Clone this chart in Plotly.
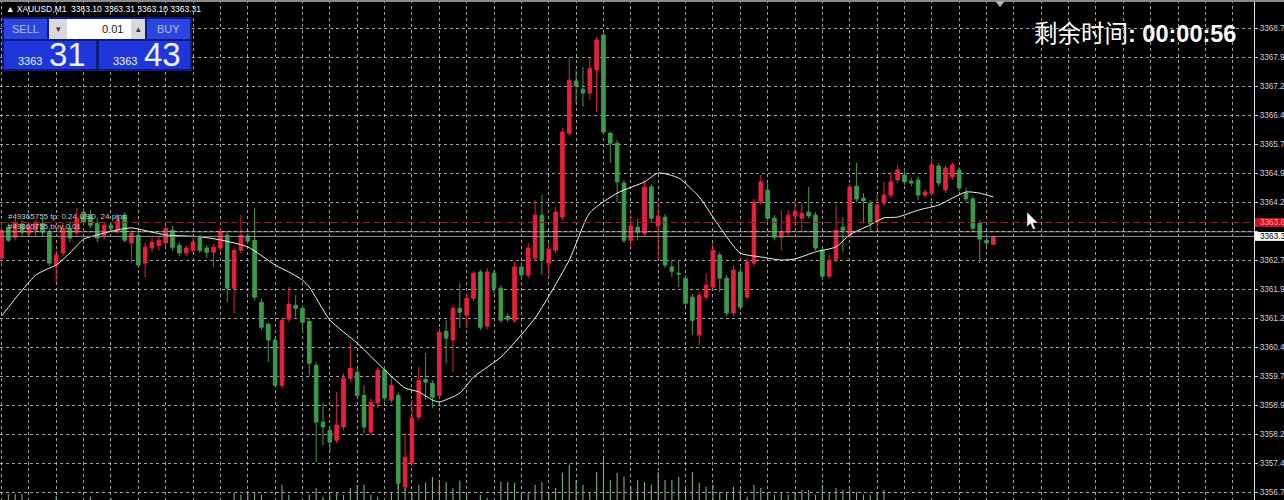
import plotly.graph_objects as go

# ---------------- data ----------------
idx = list(range(146))

opens = [
3362.75, 3363.55, 3363.29, 3363.63, 3363.39, 3363.47, 3363.65, 3363.42, 3362.57, 3362.88,
3363.52, 3363.42, 3363.94, 3363.86, 3363.65, 3363.34, 3363.60, 3363.47, 3363.86, 3363.14,
3363.34, 3362.62, 3363.01, 3363.08, 3363.14, 3363.47, 3363.08, 3362.88, 3362.95, 3363.27,
3363.01, 3362.90, 3363.01, 3363.34, 3361.97, 3362.95, 3363.32, 3363.21, 3361.61, 3361.04,
3360.63, 3359.46, 3361.17, 3361.53, 3361.45, 3361.11, 3359.98, 3358.51, 3358.30, 3358.04,
3358.38, 3359.64, 3359.80, 3359.20, 3358.25, 3359.00, 3359.85, 3359.08, 3359.20, 3356.83,
3357.45, 3358.64, 3359.61, 3359.51, 3359.20, 3360.86, 3360.63, 3361.45, 3361.27, 3361.71,
3362.39, 3360.99, 3362.36, 3361.97, 3361.25, 3361.14, 3362.52, 3362.31, 3362.75, 3363.86,
3362.62, 3362.95, 3363.81, 3365.98, 3367.33, 3367.12, 3367.02, 3367.61, 3368.52, 3365.98,
3365.72, 3364.69, 3363.21, 3363.55, 3363.39, 3364.59, 3363.58, 3363.81, 3362.52, 3362.36,
3362.23, 3361.74, 3360.76, 3361.74, 3362.00, 3362.83, 3362.23, 3361.33, 3362.39, 3361.74,
3362.62, 3364.20, 3364.51, 3363.78, 3363.29, 3363.42, 3363.84, 3363.78, 3363.94, 3363.86,
3362.95, 3362.28, 3362.72, 3363.55, 3363.34, 3364.61, 3364.30, 3364.17, 3363.68, 3364.17,
3364.38, 3364.77, 3364.90, 3364.74, 3364.77, 3364.38, 3364.43, 3365.13, 3364.51, 3364.85,
3365.03, 3364.43, 3364.28, 3363.65, 3363.21, 3363.10]

highs = [
3363.58, 3363.65, 3363.78, 3363.73, 3363.68, 3363.73, 3363.78, 3363.52, 3362.95, 3363.68,
3363.68, 3364.04, 3364.04, 3363.99, 3363.73, 3363.68, 3363.68, 3363.89, 3363.94, 3363.47,
3363.42, 3363.14, 3363.27, 3363.32, 3363.60, 3363.58, 3363.16, 3363.08, 3363.27, 3363.34,
3363.08, 3363.11, 3363.52, 3363.45, 3363.03, 3363.86, 3363.39, 3364.04, 3361.69, 3361.09,
3360.71, 3361.22, 3362.00, 3361.79, 3361.53, 3361.20, 3360.06, 3359.02, 3358.38, 3359.28,
3359.77, 3360.55, 3359.90, 3359.46, 3359.13, 3359.93, 3359.93, 3359.67, 3359.28, 3358.22,
3359.08, 3359.93, 3360.29, 3359.59, 3360.94, 3361.14, 3361.53, 3362.10, 3361.79, 3362.41,
3362.46, 3362.49, 3362.44, 3362.05, 3361.33, 3362.65, 3362.65, 3363.14, 3364.25, 3364.38,
3363.14, 3364.07, 3366.11, 3367.95, 3367.61, 3367.69, 3367.92, 3368.47, 3368.59, 3366.01,
3365.80, 3364.77, 3363.86, 3363.78, 3364.77, 3364.66, 3364.20, 3363.89, 3362.70, 3362.70,
3362.31, 3361.82, 3361.87, 3362.36, 3363.14, 3362.90, 3362.31, 3362.57, 3362.49, 3362.75,
3364.28, 3364.90, 3364.72, 3363.86, 3363.99, 3363.99, 3364.25, 3364.17, 3364.59, 3363.94,
3363.03, 3362.83, 3364.12, 3363.81, 3364.66, 3365.21, 3364.43, 3364.25, 3364.38, 3364.72,
3364.97, 3365.16, 3365.08, 3364.82, 3364.85, 3364.53, 3365.34, 3365.21, 3365.16, 3365.23,
3365.10, 3364.56, 3364.35, 3363.73, 3363.29, 3363.31]

lows = [
3362.52, 3363.16, 3363.21, 3363.32, 3363.29, 3363.32, 3363.32, 3362.54, 3362.13, 3362.80,
3363.16, 3363.32, 3363.58, 3363.52, 3363.16, 3363.24, 3363.45, 3363.39, 3363.16, 3362.62,
3362.49, 3362.26, 3362.90, 3362.95, 3363.06, 3362.95, 3362.80, 3362.80, 3362.88, 3362.88,
3362.75, 3362.52, 3362.93, 3361.61, 3361.33, 3362.88, 3363.11, 3361.66, 3360.89, 3360.06,
3359.41, 3359.38, 3361.09, 3361.22, 3360.81, 3359.72, 3357.47, 3357.91, 3357.73, 3357.96,
3358.30, 3359.56, 3359.13, 3358.22, 3358.17, 3358.87, 3359.05, 3359.00, 3356.75, 3356.75,
3357.37, 3358.56, 3359.08, 3358.87, 3359.13, 3360.03, 3359.80, 3360.94, 3360.94, 3361.64,
3360.89, 3360.91, 3361.84, 3361.07, 3361.09, 3361.07, 3362.18, 3362.23, 3362.67, 3362.31,
3362.26, 3362.88, 3363.73, 3365.91, 3366.76, 3366.66, 3366.84, 3366.53, 3365.93, 3365.21,
3364.20, 3363.14, 3363.03, 3363.21, 3363.32, 3363.68, 3362.70, 3362.49, 3362.26, 3362.00,
3361.51, 3360.76, 3360.50, 3361.66, 3361.92, 3361.87, 3361.25, 3361.25, 3361.40, 3361.66,
3362.54, 3364.12, 3363.71, 3363.21, 3362.95, 3363.29, 3363.55, 3363.42, 3363.78, 3362.95,
3362.18, 3362.21, 3362.65, 3362.90, 3363.27, 3364.20, 3363.65, 3363.47, 3363.52, 3364.09,
3364.30, 3364.69, 3364.64, 3364.61, 3364.25, 3364.30, 3364.35, 3364.61, 3364.43, 3364.77,
3364.48, 3364.20, 3363.45, 3362.62, 3363.06, 3363.10]

closes = [
3363.47, 3363.21, 3363.68, 3363.42, 3363.58, 3363.68, 3363.42, 3362.62, 3362.83, 3363.52,
3363.27, 3363.78, 3363.68, 3363.60, 3363.27, 3363.60, 3363.52, 3363.73, 3363.21, 3363.39,
3362.57, 3363.03, 3363.16, 3363.21, 3363.52, 3363.03, 3362.88, 3363.01, 3363.16, 3362.95,
3362.90, 3363.03, 3363.42, 3361.97, 3362.95, 3363.34, 3363.19, 3361.74, 3360.96, 3360.63,
3359.46, 3361.14, 3361.56, 3361.45, 3361.09, 3360.03, 3358.51, 3358.38, 3357.99, 3358.43,
3359.64, 3359.90, 3359.20, 3358.38, 3359.02, 3359.85, 3359.13, 3359.46, 3356.93, 3357.60,
3358.61, 3359.59, 3359.54, 3359.15, 3360.83, 3360.68, 3361.45, 3361.35, 3361.71, 3362.36,
3360.96, 3362.39, 3361.97, 3361.14, 3361.17, 3362.52, 3362.31, 3363.01, 3363.86, 3362.70,
3362.98, 3363.94, 3366.01, 3367.35, 3367.20, 3367.02, 3367.66, 3368.39, 3366.01, 3365.72,
3364.72, 3363.21, 3363.58, 3363.42, 3364.59, 3363.78, 3363.84, 3362.57, 3362.41, 3362.34,
3361.58, 3361.14, 3361.79, 3362.05, 3362.95, 3362.23, 3361.33, 3362.44, 3361.48, 3362.65,
3364.20, 3364.72, 3363.78, 3363.29, 3363.42, 3363.86, 3363.96, 3363.91, 3363.84, 3363.01,
3362.28, 3362.70, 3363.47, 3363.47, 3364.59, 3364.28, 3364.23, 3363.65, 3364.12, 3364.38,
3364.72, 3365.03, 3364.72, 3364.69, 3364.38, 3364.46, 3365.16, 3364.69, 3365.08, 3365.16,
3364.56, 3364.28, 3363.52, 3363.24, 3363.14, 3363.31]

volumes = [
12, 35, 35, 35, 12, 12, 12, 12, 30, 12,
12, 12, 12, 28, 12, 12, 25, 12, 12, 12,
12, 12, 12, 12, 12, 12, 12, 12, 12, 12,
12, 12, 12, 12, 38, 33, 43, 40, 33, 12,
12, 58, 33, 12, 12, 33, 50, 28, 33, 40,
33, 50, 58, 58, 33, 28, 12, 38, 63, 50,
40, 58, 63, 78, 70, 65, 50, 68, 33, 12,
33, 25, 12, 65, 65, 63, 38, 38, 58, 65,
40, 50, 88, 108, 70, 58, 40, 90, 123, 70,
88, 78, 53, 70, 65, 58, 90, 70, 70, 78,
50, 90, 63, 53, 58, 40, 38, 53, 45, 28,
58, 50, 40, 33, 38, 33, 40, 45, 45, 33,
58, 38, 50, 45, 45, 40, 33, 33, 38, 45,
12, 12, 12, 12, 12, 12, 12, 12, 12, 12,
12, 12, 12, 12, 12, 12]

ma_idx = [0, 5, 7, 8, 10, 12, 14, 17, 19, 22, 24, 29, 32, 36, 40, 42, 44, 45, 48, 52,
          56, 59, 61, 63, 64, 67, 69, 71, 73, 78, 83, 86, 90, 94, 96, 99, 102, 105, 108, 111,
          114, 116, 119, 122, 124, 127, 129, 131, 134, 137, 139, 141, 143, 145]
ma_vals = [3361.25, 3362.31, 3362.49, 3362.57, 3362.88, 3363.24, 3363.35, 3363.48, 3363.53, 3363.42,
           3363.35, 3363.30, 3363.22, 3363.04, 3362.57, 3362.39, 3362.18, 3362.00, 3361.15, 3360.55,
           3359.86, 3359.39, 3359.29, 3359.08, 3359.03, 3359.26, 3359.67, 3359.93, 3360.19, 3361.20,
           3362.70, 3363.92, 3364.43, 3364.72, 3364.95, 3364.82, 3364.33, 3363.55, 3362.88, 3362.78,
           3362.70, 3362.73, 3362.91, 3363.04, 3363.35, 3363.61, 3363.79, 3363.81, 3363.99, 3364.12,
           3364.30, 3364.46, 3364.43, 3364.33]

price_ticks = [3368.70, 3367.95, 3367.20, 3366.45, 3365.70, 3364.95, 3364.20, 3363.45, 3362.70,
               3361.95, 3361.20, 3360.45, 3359.70, 3358.95, 3358.20, 3357.45, 3356.70]
# labels as visible in the screenshot (the price scale is cut after one decimal)
price_ticktext = ["3368.7", "3367.9", "3367.2", "3366.4", "3365.7", "3364.9", "3364.2", "",
                  "3362.7", "3361.9", "3361.2", "3360.4", "3359.7", "3358.9", "3358.2",
                  "3357.4", "3356.7"]

bid_price = 3363.31
ask_price = 3363.43
tp_price = 3363.67
tp_label = "3363.6"
bid_label = "3363.3"
header_text = "▲ XAUUSD,M1  3363.10 3363.31 3363.10 3363.31"
order_text_1 = "#49365755 tp: 0.24 USD, 24 pips"
order_text_2 = "#49365755 buy 0.01"
timer_label = "剩余时间"
timer_value = "00:00:56"
lot_text = "0.01"
sell_big, sell_small = "31", "3363"
buy_big, buy_small = "43", "3363"

# ---------------- figure ----------------
W, H = 1284, 500
PW = 1254  # plot-area width in px

RED = "#e8203c"
GREEN = "#3a9c48"
GRID = "rgba(200,200,200,0.8)"
AXFONT = dict(size=8.2, color="#d0d0d0", family="Liberation Sans, Arial")

fig = go.Figure()

fig.add_trace(go.Bar(
    x=idx, y=volumes, yaxis="y2", width=0.16,
    marker=dict(color="#7cae86", line=dict(width=0)), hoverinfo="skip"))

fig.add_trace(go.Candlestick(
    x=idx, open=opens, high=highs, low=lows, close=closes,
    increasing=dict(line=dict(color=RED, width=1), fillcolor=RED),
    decreasing=dict(line=dict(color=GREEN, width=1), fillcolor=GREEN),
    whiskerwidth=0))

fig.add_trace(go.Scatter(
    x=ma_idx, y=ma_vals, mode="lines",
    line=dict(color="#f2f2f2", width=1, shape="spline", smoothing=0.6),
    hoverinfo="skip"))


def X(px):
    return px / PW


def Y(py):
    return 1 - py / H


shapes = []
annos = []


def rect(x0, y0, x1, y1, color):
    shapes.append(dict(type="rect", xref="paper", yref="paper",
                       x0=X(x0), x1=X(x1), y0=Y(y1), y1=Y(y0),
                       fillcolor=color, line=dict(width=0), layer="above"))


def text(x, y, s, size, color, xanchor="left", family="Liberation Sans, Arial, sans-serif"):
    annos.append(dict(xref="paper", yref="paper", x=X(x), y=Y(y), text=s,
                      showarrow=False, xanchor=xanchor, yanchor="middle",
                      font=dict(size=size, color=color, family=family)))


# order / price lines
shapes.append(dict(type="line", xref="paper", yref="y", x0=0, x1=1, y0=tp_price, y1=tp_price,
                   line=dict(color="#a8181c", width=1, dash="7px,4px")))
shapes.append(dict(type="line", xref="paper", yref="y", x0=0, x1=1, y0=ask_price, y1=ask_price,
                   line=dict(color="rgba(190,190,190,0.7)", width=1)))
shapes.append(dict(type="line", xref="paper", yref="y", x0=0, x1=1, y0=bid_price, y1=bid_price,
                   line=dict(color="#8f8f8f", width=1)))

# right axis price boxes
shapes.append(dict(type="rect", xref="paper", yref="y", x0=X(1255), x1=X(1284),
                   y0=tp_price - 0.115, y1=tp_price + 0.115, fillcolor="#d0101e",
                   line=dict(width=0)))
annos.append(dict(xref="paper", yref="y", x=X(1258), y=tp_price, text=tp_label,
                  showarrow=False, xanchor="left", yanchor="middle",
                  font=dict(size=8.2, color="#ff9da5", family="Liberation Sans, Arial")))
shapes.append(dict(type="rect", xref="paper", yref="y", x0=X(1255), x1=X(1284),
                   y0=bid_price - 0.115, y1=bid_price + 0.115, fillcolor="#ffffff",
                   line=dict(width=0)))
annos.append(dict(xref="paper", yref="y", x=X(1258), y=bid_price, text=bid_label,
                  showarrow=False, xanchor="left", yanchor="middle",
                  font=dict(size=8.2, color="#000000", family="Liberation Sans, Arial")))

# top border and chart-shift marker
shapes.append(dict(type="line", xref="paper", yref="paper", x0=0, x1=X(1284), y0=Y(1), y1=Y(1),
                   line=dict(color="#8a8a8a", width=2)))
shapes.append(dict(type="path", xref="paper", yref="paper",
                   path=f"M {X(995)} {Y(1)} L {X(1005)} {Y(1)} L {X(1000)} {Y(7)} Z",
                   fillcolor="#b0b0b0", line=dict(width=0)))

# mouse cursor
cur = [(1027, 212), (1027, 227), (1030.5, 223.5), (1033, 229.5), (1035.5, 228.5),
       (1033, 223), (1038, 223)]
path = "M " + " L ".join(f"{X(a)} {Y(b)}" for a, b in cur) + " Z"
shapes.append(dict(type="path", xref="paper", yref="paper", path=path,
                   fillcolor="#ffffff", line=dict(color="#222222", width=0.6)))

# one-click trading panel
rect(2, 17, 192, 71, "#0d1b7e")
rect(4, 19, 47, 39, "#2b45e2")
rect(49, 19, 67, 39, "#d9d9d9")
rect(67, 19, 131, 39, "#ffffff")
rect(131, 19, 145, 39, "#d9d9d9")
rect(147, 19, 190, 39, "#2b45e2")
rect(4, 41, 96, 69, "#1f37da")
rect(99, 41, 190, 69, "#1f37da")
text(25, 29, "SELL", 11, "#b6c2f5", xanchor="center")
text(168, 29, "BUY", 11, "#b6c2f5", xanchor="center")
text(58, 29, "▾", 9, "#333333", xanchor="center")
text(138, 29, "▴", 9, "#333333", xanchor="center")
text(125, 29, lot_text, 11, "#222222", xanchor="right")
text(44, 61, sell_small, 11, "#eef2ff", xanchor="right")
text(47, 55, sell_big, 33, "#eef2ff")
text(139, 61, buy_small, 11, "#eef2ff", xanchor="right")
text(142, 55, buy_big, 33, "#eef2ff")

# header and order labels
text(4, 9, header_text, 8.5, "#ffffff")
text(6, 217, order_text_1, 8, "#c8c8c8")
text(6, 227, order_text_2, 8, "#c8c8c8")

# countdown timer
annos.append(dict(xref="paper", yref="paper", x=X(1032), y=Y(34),
                  text=f"{timer_label}<b>: {timer_value}</b>", showarrow=False,
                  xanchor="left", yanchor="middle",
                  font=dict(size=23.5, color="#ffffff",
                            family="Liberation Sans, Noto Sans CJK SC, sans-serif")))

fig.update_layout(
    width=W, height=H,
    margin=dict(l=0, r=W - PW, t=0, b=0, autoexpand=False),
    paper_bgcolor="#000000", plot_bgcolor="#000000",
    showlegend=False,
    boxgap=0.25,
    xaxis=dict(type="linear", range=[-0.22, 183.1], tickvals=list(range(0, 184, 4)),
               showgrid=True, gridcolor=GRID, griddash="3px,3px", gridwidth=1,
               showticklabels=False, ticks="", zeroline=False, showline=False,
               rangeslider=dict(visible=False), fixedrange=True, automargin=False),
    yaxis=dict(side="right", range=[3356.494, 3369.424], tickvals=price_ticks,
               ticktext=price_ticktext, showgrid=True, gridcolor=GRID, griddash="3px,3px",
               gridwidth=1, ticks="outside", ticklen=3, tickcolor="#d0d0d0",
               tickfont=AXFONT,
               showline=True, linecolor="#e6e6e6", linewidth=1, zeroline=False,
               fixedrange=True, automargin=False),
    yaxis2=dict(overlaying="y", range=[20, 1270], visible=False, fixedrange=True),
    shapes=shapes,
    annotations=annos,
)

fig.write_html("out.html", config={"displayModeBar": False, "staticPlot": True})

# remove the browser's default page margin so the chart sits at the window's top-left
with open("out.html", "r", encoding="utf-8") as fh:
    page = fh.read()
page = page.replace("<head>", "<head><style>html,body{margin:0;padding:0;background:#000;overflow:hidden;}</style>", 1)
with open("out.html", "w", encoding="utf-8") as fh:
    fh.write(page)
